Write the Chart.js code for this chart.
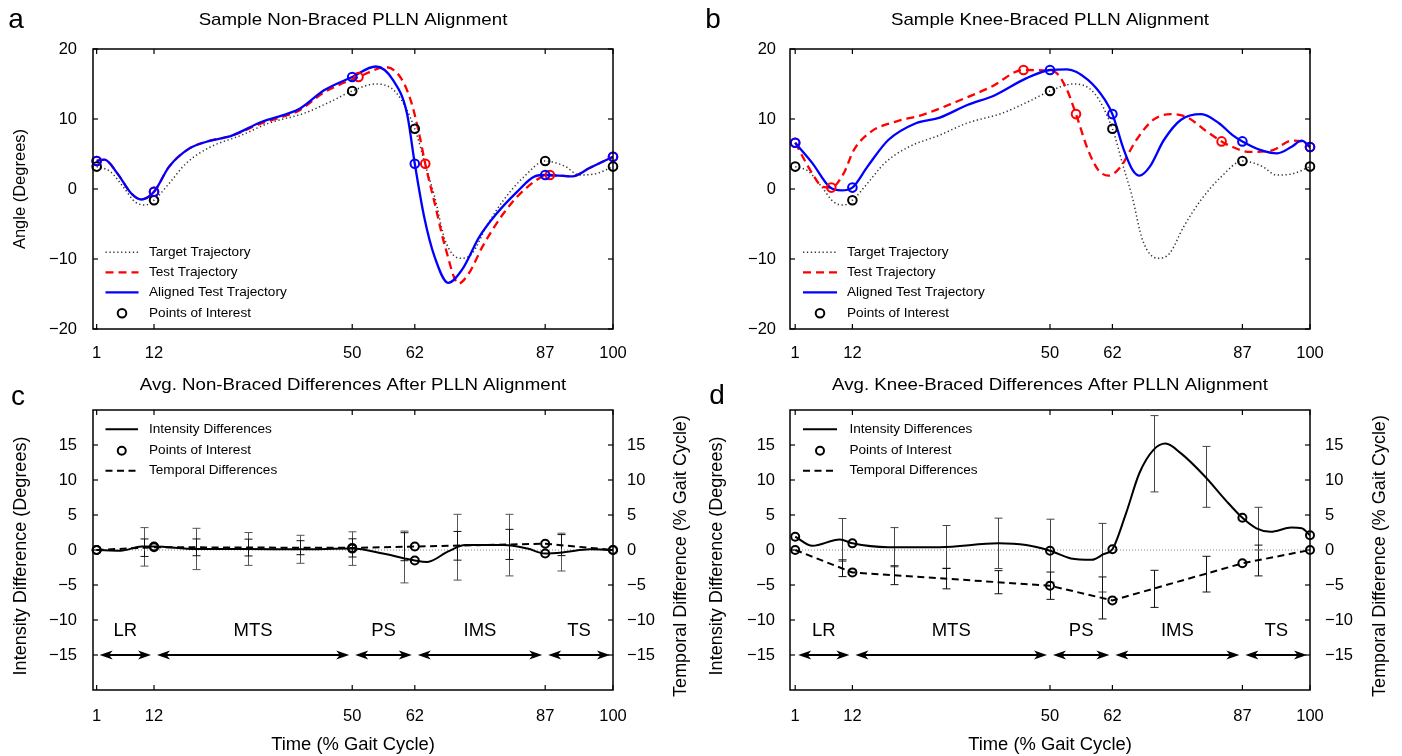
<!DOCTYPE html>
<html>
<head>
<meta charset="utf-8">
<title>PLLN Alignment</title>
<script src="https://cdn.jsdelivr.net/npm/chart.js@4.4.1/dist/chart.umd.min.js"></script>
<style>
html,body{margin:0;padding:0;background:#fff;}
body{width:1402px;height:756px;position:relative;overflow:hidden;}
canvas{position:absolute;display:block;}
</style>
</head>
<body>
<canvas id="pa" width="700" height="370" style="left:0;top:0"></canvas>
<canvas id="pb" width="702" height="370" style="left:700px;top:0"></canvas>
<canvas id="pc" width="700" height="386" style="left:0;top:370px"></canvas>
<canvas id="pd" width="702" height="386" style="left:700px;top:370px"></canvas>
<script>
// ---------------- data ----------------
const xTicks = [1, 12, 50, 62, 87, 100];
const yTicksTop = [-20, -10, 0, 10, 20];
const yTicksBottom = [-15, -10, -5, 0, 5, 10, 15];
const poiX = [1, 12, 50, 62, 87, 100];
const phaseNames = ['LR', 'MTS', 'PS', 'IMS', 'TS'];

// shared target trajectory (panels a, b)
const targetX = [1, 3.6, 6.3, 8.3, 10.3, 12, 14.9, 18.2, 22.8, 28.8, 34, 40.7, 45.9, 50, 54.5, 58.5, 62, 64.1, 65.8, 67.8, 70.7, 73, 75.7, 79, 83, 87, 90.9, 93.5, 96.8, 100];
const targetY = [3.2, 2.5, 0.1, -1.8, -2.3, -1.6, 0.8, 3.7, 6.0, 7.7, 9.4, 10.8, 12.5, 14.0, 15.0, 13.7, 8.6, 3.2, -1.1, -7.3, -9.9, -9.2, -5.4, -1.6, 1.8, 4.0, 3.2, 2.0, 2.2, 3.2];
const targetPoiY = [3.2, -1.6, 14.0, 8.6, 4.0, 3.2];

// panel a
const testAX = [1, 2.5, 5, 7.6, 9.6, 12, 14.9, 18.8, 22.8, 26.8, 32.7, 37.4, 40, 44.6, 51.2, 56.5, 59.2, 61.2, 62.8, 64, 65.8, 67.8, 70.4, 72.4, 75, 79, 83, 87.9, 92.2, 95.5, 100];
const testAY = [4.0, 4.2, 2.2, -0.6, -1.5, -0.4, 3.2, 5.8, 6.9, 7.6, 9.4, 10.5, 11.3, 13.8, 16.0, 17.4, 16.0, 12.7, 8.0, 3.6, -2.0, -8.2, -13.5, -12.0, -8.2, -3.5, -0.1, 2.0, 1.8, 3.0, 4.6];
const alignedAX = [1, 2.5, 5, 7.6, 9.6, 12, 14.9, 18.8, 22.8, 26.8, 32.7, 37.4, 40, 44.6, 50, 54.5, 57.8, 60.5, 62, 63.8, 65.8, 68.4, 71, 74.4, 77.7, 81.6, 85, 87, 92.2, 95.5, 100];
const alignedAY = [4.0, 4.2, 2.2, -0.6, -1.5, -0.4, 3.2, 5.8, 6.9, 7.6, 9.6, 10.7, 11.5, 14.1, 16.0, 17.5, 15.6, 10.8, 3.6, -4.0, -9.7, -13.4, -11.6, -6.8, -3.5, -0.4, 1.8, 2.0, 1.8, 3.0, 4.6];
const testPoiAX = [1, 12, 51.2, 64, 87.9, 100];
const testPoiAY = [4.0, -0.4, 16.0, 3.6, 2.0, 4.6];
const alignedPoiAY = [4.0, -0.4, 16.0, 3.6, 2.0, 4.6];

// panel b
const testBX = [1, 4.3, 6.3, 7.95, 10.3, 12.3, 15.6, 20.2, 25.5, 32.1, 38.7, 44.9, 50.7, 53, 55, 57.3, 59.3, 61.3, 63.6, 66.6, 69.9, 73.2, 76.5, 79.8, 83, 85.1, 88.4, 93, 96.4, 98.4, 100];
const testBY = [6.6, 2.2, 0.3, 0.2, 2.2, 5.6, 8.2, 9.6, 10.6, 12.5, 14.6, 17.0, 16.8, 14.6, 10.7, 5.6, 2.7, 1.9, 3.2, 7.0, 9.9, 10.7, 10.2, 8.4, 6.8, 6.0, 5.3, 5.6, 6.9, 6.8, 6.0];
const alignedBX = [1, 4.3, 7.6, 9.9, 12, 14.9, 18.9, 24.2, 28.8, 34.1, 39.4, 45.4, 50, 53.3, 57.3, 60.6, 62, 64.2, 65.9, 67.2, 69.2, 71.9, 75.2, 79.1, 82.5, 85.1, 87, 90.4, 93.7, 96.4, 98.4, 100];
const alignedBY = [6.6, 3.7, 0.3, -0.2, 0.2, 3.2, 7.0, 9.4, 10.2, 12.0, 13.4, 15.8, 17.0, 17.1, 15.6, 12.7, 10.7, 5.6, 2.7, 1.9, 3.2, 7.0, 9.9, 10.7, 9.4, 7.7, 6.8, 5.6, 5.1, 6.0, 6.9, 6.0];
const testPoiBX = [1, 7.95, 44.9, 55, 83, 100];
const testPoiBY = [6.6, 0.2, 17.0, 10.7, 6.8, 6.0];
const alignedPoiBY = [6.6, 0.2, 17.0, 10.7, 6.8, 6.0];

// panel c
const intCX = [1, 5.6, 9.6, 12, 20, 30, 40, 50, 55.9, 60, 62, 64.4, 68.4, 71.7, 79, 83.6, 87, 90.9, 95.5, 100];
const intCY = [0, -0.1, 0.5, 0.5, 0.15, 0.15, 0.1, 0.2, -0.5, -1.2, -1.5, -1.7, -0.2, 0.7, 0.7, 0.2, -0.5, -0.3, 0.1, 0];
const intPoiCY = [0, 0.5, 0.2, -1.5, -0.5, 0];
const tempPoiCY = [0, 0.4, 0.3, 0.5, 0.9, 0];
const errX = [10, 20, 30, 40, 50, 60, 70, 80, 90];
const intMeanC = [0.45, 0.15, 0.15, 0.1, 0.2, -1.0, 0.4, 0.7, -0.3];
const intErrC = [2.75, 2.95, 2.35, 2.0, 2.4, 3.7, 4.7, 4.4, 2.7];
const tempMeanC = [0.33, 0.38, 0.35, 0.33, 0.3, 0.47, 0.6, 0.8, 0.7];
const tempErrC = [1.25, 1.2, 1.2, 1.0, 1.3, 2.0, 2.05, 2.15, 1.5];

// panel d
const intDX = [1, 4.3, 9.6, 12, 18.9, 28.8, 40.1, 45.4, 50, 54, 58, 60.3, 62, 64.6, 67.2, 69.9, 72.2, 75.2, 79.8, 83.8, 87, 89.7, 92.4, 96.4, 98.4, 100];
const intDY = [1.9, 0.6, 1.5, 0.95, 0.4, 0.4, 0.95, 0.7, -0.1, -1.2, -1.4, -0.6, 0.1, 5.2, 11.0, 14.3, 15.2, 13.8, 10.5, 7.1, 4.6, 3.1, 2.6, 3.2, 3.1, 2.1];
const intPoiDY = [1.9, 0.95, -0.1, 0.1, 4.6, 2.1];
const tempPoiDY = [0, -3.2, -5.1, -7.2, -1.9, 0];
const intMeanD = [1.45, 0.4, 0.45, 0.95, -0.1, -1.1, 13.75, 10.45, 3.05];
const intErrD = [3.05, 2.8, 3.05, 3.6, 4.5, 4.9, 5.45, 4.35, 3.05];
const tempMeanD = [-2.6, -3.6, -4.1, -4.6, -5.1, -6.85, -5.55, -3.45, -1.5];
const tempErrD = [1.2, 1.35, 1.45, 1.65, 1.95, 3.0, 2.65, 2.55, 2.2];

// ---------------- helpers ----------------
const FONT = '"Liberation Sans", Arial, Helvetica, sans-serif';
Chart.defaults.font.family = FONT;
Chart.defaults.color = '#000';
const pts = (xs, ys) => xs.map((x, i) => ({x: x, y: ys[i]}));
const fmt = v => (v < 0 ? '\u2212' + Math.abs(v) : String(v));

function txt(ctx, s, x, y, size, align, rot, sx) {
  ctx.save();
  ctx.font = size + 'px ' + FONT;
  ctx.fillStyle = '#000';
  ctx.textAlign = align || 'center';
  ctx.textBaseline = 'middle';
  ctx.translate(x, y);
  if (rot) ctx.rotate(rot);
  ctx.scale(sx || 1, 1);
  ctx.fillText(s, 0, 0);
  ctx.restore();
}
function seg(ctx, x1, y1, x2, y2) { ctx.beginPath(); ctx.moveTo(x1, y1); ctx.lineTo(x2, y2); ctx.stroke(); }
function head(ctx, x, y, d) {
  ctx.beginPath(); ctx.moveTo(x, y); ctx.lineTo(x + 13 * d, y - 4.6); ctx.lineTo(x + 9.5 * d, y); ctx.lineTo(x + 13 * d, y + 4.6); ctx.closePath(); ctx.fill();
}

const decorPlugin = {
  id: 'decor',
  beforeDatasetsDraw(chart, args, o) {
    const ctx = chart.ctx, xs = chart.scales.x;
    ctx.save();
    (o.errors || []).forEach(e => {
      const sc = chart.scales[e.axis];
      ctx.strokeStyle = e.color; ctx.lineWidth = 1; ctx.setLineDash([]);
      e.x.forEach((xv, i) => {
        const px = Math.round(xs.getPixelForValue(xv)) + 0.5;
        const t = sc.getPixelForValue(e.mean[i] + e.err[i]);
        const b = sc.getPixelForValue(e.mean[i] - e.err[i]);
        seg(ctx, px, t, px, b); seg(ctx, px - 4, t, px + 4, t); seg(ctx, px - 4, b, px + 4, b);
      });
    });
    ctx.restore();
  },
  afterDatasetsDraw(chart, args, o) {
    const ctx = chart.ctx, a = chart.chartArea, xs = chart.scales.x, ys = chart.scales.y, y2 = chart.scales.y2;
    ctx.save();
    ctx.setLineDash([]);
    // phase arrows + labels
    if (o.phases) {
      const p = o.phases, yA = ys.getPixelForValue(p.arrowY), yL = ys.getPixelForValue(p.labelY);
      ctx.strokeStyle = '#000'; ctx.fillStyle = '#000'; ctx.lineWidth = 1.8;
      for (let i = 0; i < p.names.length; i++) {
        const b1 = xs.getPixelForValue(p.bounds[i]), b2 = xs.getPixelForValue(p.bounds[i + 1]);
        const x1 = b1 + 3, x2 = b2 - 3;
        seg(ctx, x1 + 8, yA, x2 - 8, yA);
        head(ctx, x1, yA, 1); head(ctx, x2, yA, -1);
        txt(ctx, p.names[i], (b1 + b2) / 2, yL, p.size, 'center', 0, 1);
      }
    }
    // box
    ctx.strokeStyle = '#000'; ctx.lineWidth = 1.5;
    ctx.strokeRect(a.left, a.top, a.right - a.left, a.bottom - a.top);
    // inward ticks
    ctx.lineWidth = 1.2;
    xs.ticks.forEach(t => { const px = xs.getPixelForValue(t.value); seg(ctx, px, a.bottom, px, a.bottom - 5); seg(ctx, px, a.top, px, a.top + 5); });
    ys.ticks.forEach(t => { const py = ys.getPixelForValue(t.value); seg(ctx, a.left, py, a.left + 5, py); seg(ctx, a.right, py, a.right - 5, py); });
    // tick labels
    const L = o.labels;
    xs.ticks.forEach(t => txt(ctx, fmt(t.value), xs.getPixelForValue(t.value), a.bottom + L.xGap, L.size, 'center', 0, L.sx));
    ys.ticks.forEach(t => txt(ctx, fmt(t.value), a.left - L.yGap, ys.getPixelForValue(t.value), L.size, 'right', 0, L.sx));
    if (y2) y2.ticks.forEach(t => txt(ctx, fmt(t.value), a.right + L.y2Gap, y2.getPixelForValue(t.value), L.size, 'left', 0, L.sx));
    // titles
    const T = o.titles, cx = (a.left + a.right) / 2, cy = (a.top + a.bottom) / 2;
    txt(ctx, T.main, cx, T.mainY, T.mainSize, 'center', 0, T.mainSx);
    if (T.y) txt(ctx, T.y, T.yX, cy + (T.yShift || 0), T.size, 'center', -Math.PI / 2, T.sx);
    if (T.y2) txt(ctx, T.y2, T.y2X, cy + (T.yShift || 0), T.size, 'center', -Math.PI / 2, T.sx);
    if (T.x) txt(ctx, T.x, cx, a.bottom + T.xGap, T.xSize, 'center', 0, T.xSx);
    ctx.font = T.letterSize + 'px ' + FONT; ctx.fillStyle = '#000'; ctx.textAlign = 'center'; ctx.textBaseline = 'alphabetic';
    ctx.fillText(T.letter, T.letterX, T.letterY);
    // legend
    const G = o.legend;
    G.items.forEach((it, i) => {
      const ds = chart.data.datasets[it.ds];
      const y = a.top + G.rows[i], x0 = a.left + G.x0, x1 = a.left + G.x1;
      if (it.kind === 'line') {
        ctx.strokeStyle = ds.borderColor; ctx.lineWidth = ds.borderWidth; ctx.setLineDash(ds.borderDash || []);
        seg(ctx, x0, y, x1, y); ctx.setLineDash([]);
      } else {
        ctx.strokeStyle = ds.pointBorderColor; ctx.lineWidth = ds.pointBorderWidth;
        ctx.beginPath(); ctx.arc((x0 + x1) / 2, y, ds.pointRadius, 0, Math.PI * 2); ctx.stroke();
      }
      txt(ctx, it.text, a.left + G.tx, y, G.size, 'left', 0, 1);
    });
    ctx.restore();
  }
};

function lineDs(data, color, width, dash, order, axis, tension) {
  return {data: data, borderColor: color, borderWidth: width, borderDash: dash, pointRadius: 0, fill: false,
    cubicInterpolationMode: tension ? 'monotone' : 'default', tension: 0, order: order, yAxisID: axis || 'y'};
}
function poiDs(data, color, order, axis, r) {
  return {data: data, showLine: false, pointRadius: r || 4.3, pointBorderWidth: 2, pointBorderColor: color,
    pointBackgroundColor: 'rgba(0,0,0,0)', borderColor: color, pointStyle: 'circle', clip: false, order: order, yAxisID: axis || 'y'};
}
function fixedTicks(vals) { return s => { s.ticks = vals.map(v => ({value: v})); }; }

function makeChart(id, c) {
  const scales = {
    x: {type: 'linear', min: c.xmin, max: 100, afterBuildTicks: fixedTicks(xTicks), ticks: {display: false},
      grid: {display: false}, border: {display: false}, afterFit: s => { s.height = c.xh; }},
    y: {type: 'linear', position: 'left', min: -20, max: 20, afterBuildTicks: fixedTicks(c.yticks), ticks: {display: false},
      grid: {display: false}, border: {display: false}, afterFit: s => { s.width = c.yw; }}
  };
  if (c.y2w) {
    scales.y2 = {type: 'linear', position: 'right', min: -20, max: 20, afterBuildTicks: fixedTicks(c.yticks), ticks: {display: false},
      grid: {display: false}, border: {display: false}, afterFit: s => { s.width = c.y2w; }};
  }
  return new Chart(document.getElementById(id), {
    type: 'line',
    data: {datasets: c.datasets},
    options: {
      responsive: false, animation: false, events: [],
      layout: {padding: c.padding},
      plugins: {legend: {display: false}, tooltip: {enabled: false}, title: {display: false}, decor: c.decor},
      scales: scales
    },
    plugins: [decorPlugin]
  });
}

const topLegend = [
  {ds: 0, kind: 'line', text: 'Target Trajectory'},
  {ds: 1, kind: 'line', text: 'Test Trajectory'},
  {ds: 2, kind: 'line', text: 'Aligned Test Trajectory'},
  {ds: 3, kind: 'point', text: 'Points of Interest'}
];
const botLegend = [
  {ds: 1, kind: 'line', text: 'Intensity Differences'},
  {ds: 3, kind: 'point', text: 'Points of Interest'},
  {ds: 2, kind: 'line', text: 'Temporal Differences'}
];
const TITLE_SIZE = 17, TITLE_SX = 1.1, TICK = 16.5, AX = 16.5, AXB = 18;

// ---- panel a ----
makeChart('pa', {
  xmin: 0.3, xh: 41, yw: 93, yticks: yTicksTop, padding: {left: 0, top: 49, right: 87, bottom: 0},
  datasets: [
    lineDs(pts(targetX, targetY), '#333333', 1.5, [1.3, 2.6], 10, 'y', true),
    lineDs(pts(testAX, testAY), '#ff0000', 2.3, [8, 5], 9, 'y', true),
    lineDs(pts(alignedAX, alignedAY), '#0000ff', 2.3, [], 8, 'y', true),
    poiDs(pts(poiX, targetPoiY), '#000000', 3),
    poiDs(pts(testPoiAX, testPoiAY), '#ff0000', 2),
    poiDs(pts(poiX, alignedPoiAY), '#0000ff', 1)
  ],
  decor: {
    labels: {size: TICK, sx: 1, xGap: 24, yGap: 16},
    titles: {main: 'Sample Non-Braced PLLN Alignment', mainY: 20, mainSize: TITLE_SIZE, mainSx: TITLE_SX,
      y: 'Angle (Degrees)', yX: 20, size: AX, sx: 1, letter: 'a', letterX: 16, letterY: 28, letterSize: 28},
    legend: {items: topLegend, rows: [203.3, 223.3, 243.3, 264.3], x0: 12.5, x1: 45.5, tx: 56, size: 13.6}
  }
});

// ---- panel b ----
makeChart('pb', {
  xmin: 0, xh: 41, yw: 90, yticks: yTicksTop, padding: {left: 0, top: 49, right: 92, bottom: 0},
  datasets: [
    lineDs(pts(targetX, targetY), '#333333', 1.5, [1.3, 2.6], 10, 'y', true),
    lineDs(pts(testBX, testBY), '#ff0000', 2.3, [8, 5], 9, 'y', true),
    lineDs(pts(alignedBX, alignedBY), '#0000ff', 2.3, [], 8, 'y', true),
    poiDs(pts(poiX, targetPoiY), '#000000', 3),
    poiDs(pts(testPoiBX, testPoiBY), '#ff0000', 2),
    poiDs(pts(poiX, alignedPoiBY), '#0000ff', 1)
  ],
  decor: {
    labels: {size: TICK, sx: 1, xGap: 24, yGap: 14},
    titles: {main: 'Sample Knee-Braced PLLN Alignment', mainY: 20, mainSize: TITLE_SIZE, mainSx: TITLE_SX,
      letter: 'b', letterX: 13, letterY: 28, letterSize: 28},
    legend: {items: topLegend, rows: [203.3, 223.3, 243.3, 264.3], x0: 13, x1: 47, tx: 57, size: 13.6}
  }
});

// ---- panel c ----
makeChart('pc', {
  xmin: 0.3, xh: 66, yw: 93, y2w: 87, yticks: yTicksBottom, padding: {left: 0, top: 40, right: 0, bottom: 0},
  datasets: [
    lineDs([{x: 0.3, y: 0}, {x: 100, y: 0}], '#888888', 1, [1, 2], 20),
    lineDs(pts(intCX, intCY), '#000000', 2, [], 5, 'y', true),
    lineDs(pts(poiX, tempPoiCY), '#000000', 2, [7, 4.5], 6, 'y2', false),
    poiDs(pts(poiX, intPoiCY), '#000000', 2, 'y', 4),
    poiDs(pts(poiX, tempPoiCY), '#000000', 1, 'y2', 4)
  ],
  decor: {
    errors: [
      {axis: 'y', x: errX, mean: intMeanC, err: intErrC, color: '#555555'},
      {axis: 'y2', x: errX, mean: tempMeanC, err: tempErrC, color: '#111111'}
    ],
    phases: {names: phaseNames, bounds: poiX, arrowY: -15, labelY: -11.6, size: 18.5},
    labels: {size: TICK, sx: 1, xGap: 26, yGap: 16, y2Gap: 14},
    titles: {main: 'Avg. Non-Braced Differences After PLLN Alignment', mainY: 15, mainSize: TITLE_SIZE, mainSx: TITLE_SX,
      y: 'Intensity Difference (Degrees)', yX: 21, y2: 'Temporal Difference (% Gait Cycle)', y2X: 681, size: AXB, sx: 1, yShift: 6,
      x: 'Time (% Gait Cycle)', xGap: 55, xSize: 17.5, xSx: 1.05,
      letter: 'c', letterX: 18, letterY: 35, letterSize: 28},
    legend: {items: botLegend, rows: [19.3, 40.7, 60.7], x0: 12.5, x1: 45, tx: 56, size: 13.6}
  }
});

// ---- panel d ----
makeChart('pd', {
  xmin: 0, xh: 66, yw: 90, y2w: 92, yticks: yTicksBottom, padding: {left: 0, top: 40, right: 0, bottom: 0},
  datasets: [
    lineDs([{x: 0, y: 0}, {x: 100, y: 0}], '#888888', 1, [1, 2], 20),
    lineDs(pts(intDX, intDY), '#000000', 2, [], 5, 'y', true),
    lineDs(pts(poiX, tempPoiDY), '#000000', 2, [7, 4.5], 6, 'y2', false),
    poiDs(pts(poiX, intPoiDY), '#000000', 2, 'y', 4),
    poiDs(pts(poiX, tempPoiDY), '#000000', 1, 'y2', 4)
  ],
  decor: {
    errors: [
      {axis: 'y', x: errX, mean: intMeanD, err: intErrD, color: '#444444'},
      {axis: 'y2', x: errX, mean: tempMeanD, err: tempErrD, color: '#111111'}
    ],
    phases: {names: phaseNames, bounds: poiX, arrowY: -15, labelY: -11.6, size: 18.5},
    labels: {size: TICK, sx: 1, xGap: 26, yGap: 15, y2Gap: 15},
    titles: {main: 'Avg. Knee-Braced Differences After PLLN Alignment', mainY: 15, mainSize: TITLE_SIZE, mainSx: TITLE_SX,
      y: 'Intensity Difference (Degrees)', yX: 17, y2: 'Temporal Difference (% Gait Cycle)', y2X: 680.5, size: AXB, sx: 1, yShift: 6,
      x: 'Time (% Gait Cycle)', xGap: 55, xSize: 17.5, xSx: 1.05,
      letter: 'd', letterX: 17, letterY: 34, letterSize: 28},
    legend: {items: botLegend, rows: [19.3, 40.7, 60.7], x0: 13, x1: 47, tx: 59.4, size: 13.6}
  }
});
</script>
</body>
</html>
